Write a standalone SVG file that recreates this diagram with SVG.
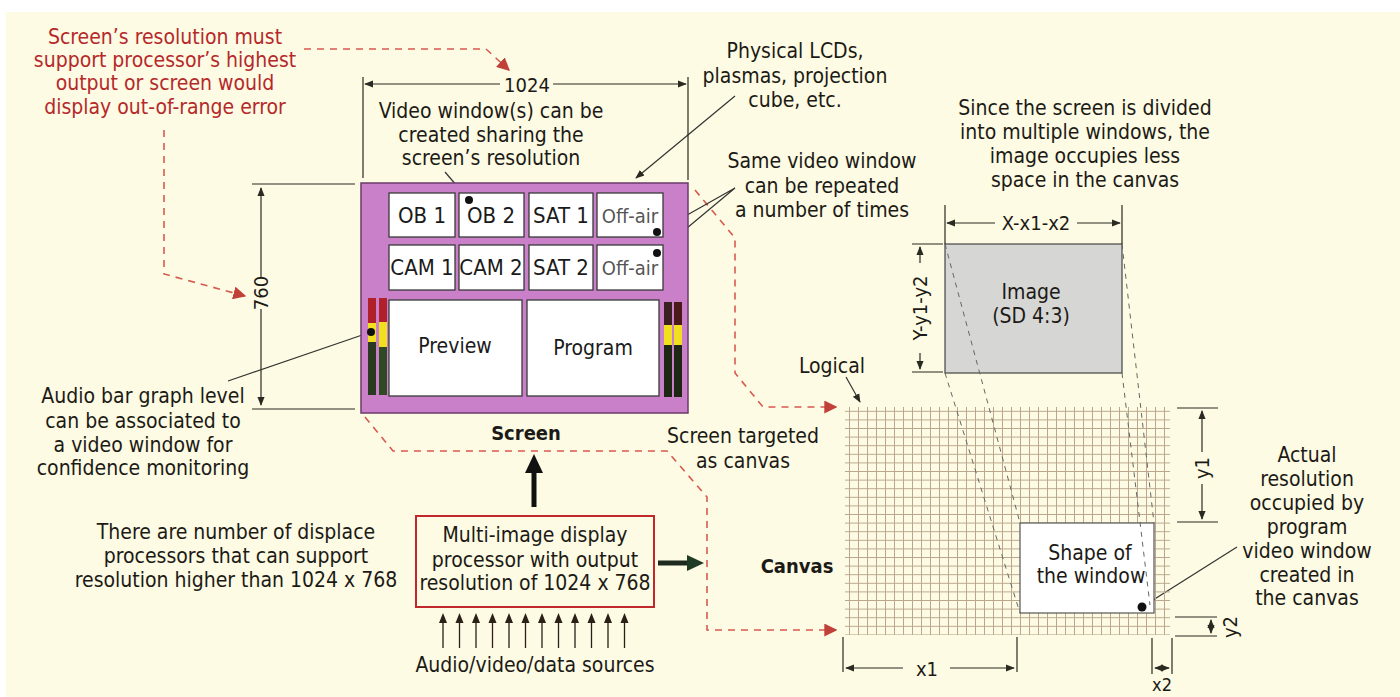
<svg xmlns="http://www.w3.org/2000/svg" width="1400" height="697" viewBox="0 0 1400 697">
<defs>
<style>
.t{font-family:"DejaVu Sans Condensed","DejaVu Sans",sans-serif;font-size:21px;fill:#1c1a16;text-anchor:middle}
.red{fill:#b5292b}
.b{font-weight:bold;font-size:20px}
.d{font-size:20px}
.dim{stroke:#2a2a22;stroke-width:1.2;fill:none}
.dr{stroke:#d65a50;stroke-width:1.6;stroke-dasharray:7 6;fill:none}
.proj{stroke:#666;stroke-width:1;stroke-dasharray:5 5;fill:none}
.lead{stroke:#333;stroke-width:1.2;fill:none}
.win{fill:#ffffff;stroke:#3a3a3a;stroke-width:1.3}
.wt{font-family:"DejaVu Sans Condensed","DejaVu Sans",sans-serif;font-size:22px;fill:#1a1a1a;text-anchor:middle}
</style>
<marker id="ah" viewBox="0 0 10 10" refX="9" refY="5" markerWidth="9" markerHeight="9" markerUnits="userSpaceOnUse" orient="auto">
<path d="M0,1 L10,5 L0,9 Z" fill="#2a2a22"/>
</marker>
<marker id="ahr" viewBox="0 0 10 10" refX="9" refY="5" markerWidth="13" markerHeight="13" markerUnits="userSpaceOnUse" orient="auto">
<path d="M0,0 L10,5 L0,10 Z" fill="#c0403a"/>
</marker>
<pattern id="grid" x="845" y="407" width="9" height="8.6" patternUnits="userSpaceOnUse">
<path d="M4.5,0 V8.6 M0,4.3 H9" stroke="#bba68e" stroke-width="1"/>
</pattern>
</defs>

<rect x="0" y="0" width="1400" height="697" fill="#ffffff"/>
<rect x="6" y="12" width="1394" height="685" fill="#fdfbe3"/>

<!-- connectors -->
<g id="connectors">
<path class="dr" d="M304,49 H486 L509,70" marker-end="url(#ahr)"/>
<path class="dr" d="M164,130 V274 L245,296" marker-end="url(#ahr)"/>
<path class="dr" d="M365,417 L393,451 H667 L707,497 V630 H836" marker-end="url(#ahr)"/>
<path class="dr" d="M695,190 L735,238 V373 L763,407 H836" marker-end="url(#ahr)"/>
<line x1="534" y1="507" x2="534" y2="470" stroke="#111" stroke-width="5"/>
<polygon points="534,454 525,473 543,473" fill="#111"/>
<line x1="658" y1="563" x2="690" y2="563" stroke="#1f2a1f" stroke-width="5"/>
<polygon points="704,563 687,555 687,571" fill="#1f3a25"/>
<path class="lead" d="M735,96 L636,178" marker-end="url(#ah)"/>
<path class="lead" d="M735,188 L657,232 M735,188 L657,253"/>
<path class="lead" d="M445,172 L469,200"/>
<path class="lead" d="M228,381 L371,332"/>
<path class="lead" d="M1237,547 L1142,607"/>
<path class="lead" d="M846,377 L860,402" marker-end="url(#ah)"/>
</g>

<g id="note-resolution">
<text class="t red" x="165" y="44">Screen’s resolution must</text>
<text class="t red" x="165" y="67">support processor’s highest</text>
<text class="t red" x="165" y="90">output or screen would</text>
<text class="t red" x="165" y="114">display out-of-range error</text>
</g>

<g id="dim-1024">
<path class="dim" d="M363,77 V178 M688,77 V180"/>
<path class="dim" d="M500,84 H365" marker-end="url(#ah)"/>
<path class="dim" d="M553,84 H686" marker-end="url(#ah)"/>
<text class="t d" x="527" y="92">1024</text>
</g>

<g id="dim-760">
<path class="dim" d="M252,184 H355 M252,409 H355"/>
<path class="dim" d="M261,278 V188" marker-end="url(#ah)"/>
<path class="dim" d="M261,309 V405" marker-end="url(#ah)"/>
<text class="t d" transform="translate(268,293) rotate(-90)">760</text>
</g>

<g id="note-video-window">
<text class="t" x="491" y="118">Video window(s) can be</text>
<text class="t" x="491" y="142">created sharing the</text>
<text class="t" x="491" y="165">screen’s resolution</text>
</g>

<g id="note-physical">
<text class="t" x="795" y="58">Physical LCDs,</text>
<text class="t" x="795" y="83">plasmas, projection</text>
<text class="t" x="795" y="107">cube, etc.</text>
</g>

<g id="note-same">
<text class="t" x="822" y="168">Same video window</text>
<text class="t" x="822" y="193">can be repeated</text>
<text class="t" x="822" y="217">a number of times</text>
</g>

<g id="screen">
<rect x="361" y="183" width="327" height="230" fill="#c980c9" stroke="#6b3a6b" stroke-width="1.5"/>
<rect class="win" x="389" y="193" width="66" height="44"/>
<rect class="win" x="459" y="193" width="65" height="44"/>
<rect class="win" x="529" y="193" width="64" height="44"/>
<rect class="win" x="597" y="193" width="66" height="44" fill="#f7f4f4"/>
<rect class="win" x="389" y="245" width="66" height="45"/>
<rect class="win" x="459" y="245" width="65" height="45"/>
<rect class="win" x="529" y="245" width="64" height="45"/>
<rect class="win" x="597" y="245" width="66" height="45" fill="#f7f4f4"/>
<rect class="win" x="389" y="300" width="133" height="96"/>
<rect class="win" x="527" y="300" width="132" height="96"/>
<text class="wt" x="422" y="223">OB 1</text>
<text class="wt" x="491" y="223">OB 2</text>
<text class="wt" x="561" y="223">SAT 1</text>
<text class="wt" x="630" y="223" style="fill:#555;font-size:20px">Off-air</text>
<text class="wt" x="422" y="275">CAM 1</text>
<text class="wt" x="491" y="275">CAM 2</text>
<text class="wt" x="561" y="275">SAT 2</text>
<text class="wt" x="630" y="275" style="fill:#555;font-size:20px">Off-air</text>
<text class="wt" x="455" y="353" style="font-size:21px">Preview</text>
<text class="wt" x="593" y="355" style="font-size:21px">Program</text>
<rect x="368" y="298" width="8" height="25" fill="#b0202a"/>
<rect x="368" y="323" width="8" height="19" fill="#f0e020"/>
<rect x="368" y="342" width="8" height="53" fill="#2a3a20"/>
<rect x="379" y="298" width="8" height="24" fill="#b0202a"/>
<rect x="379" y="322" width="8" height="25" fill="#f0e020"/>
<rect x="379" y="347" width="8" height="48" fill="#2e4a22"/>
<rect x="664" y="302" width="8" height="23" fill="#3a2020"/>
<rect x="664" y="325" width="8" height="20" fill="#f0e020"/>
<rect x="664" y="345" width="8" height="52" fill="#1e2614"/>
<rect x="674" y="302" width="8" height="23" fill="#4a1a1a"/>
<rect x="674" y="325" width="8" height="20" fill="#f0e020"/>
<rect x="674" y="345" width="8" height="52" fill="#1e2614"/>
<circle cx="469" cy="200" r="4" fill="#111"/>
<circle cx="657" cy="232" r="4" fill="#111"/>
<circle cx="657" cy="253" r="4" fill="#111"/>
<circle cx="371" cy="332" r="4" fill="#111"/>
<text class="t b" x="526" y="440">Screen</text>
</g>

<g id="note-audio">
<text class="t" x="143" y="403">Audio bar graph level</text>
<text class="t" x="143" y="428">can be associated to</text>
<text class="t" x="143" y="452">a video window for</text>
<text class="t" x="143" y="475">confidence monitoring</text>
</g>

<g id="note-processors">
<text class="t" x="236" y="539">There are number of displace</text>
<text class="t" x="236" y="563">processors that can support</text>
<text class="t" x="236" y="587">resolution higher than 1024 x 768</text>
</g>

<g id="processor">
<rect x="416" y="516" width="238" height="91" fill="#fdfbe3" stroke="#c0282c" stroke-width="2"/>
<text class="t" x="535" y="542">Multi-image display</text>
<text class="t" x="535" y="567">processor with output</text>
<text class="t" x="535" y="590">resolution of 1024 x 768</text>
</g>

<g id="sources">
<g stroke="#2a2018" stroke-width="1.3">
<line x1="443" y1="648" x2="443" y2="620"/><line x1="459.5" y1="648" x2="459.5" y2="620"/><line x1="476" y1="648" x2="476" y2="620"/><line x1="492.5" y1="648" x2="492.5" y2="620"/><line x1="509" y1="648" x2="509" y2="620"/><line x1="525.5" y1="648" x2="525.5" y2="620"/><line x1="542" y1="648" x2="542" y2="620"/><line x1="558.5" y1="648" x2="558.5" y2="620"/><line x1="575" y1="648" x2="575" y2="620"/><line x1="591.5" y1="648" x2="591.5" y2="620"/><line x1="608" y1="648" x2="608" y2="620"/><line x1="624.5" y1="648" x2="624.5" y2="620"/>
</g>
<g fill="#2a2018">
<polygon points="443,613 439,623 447,623"/><polygon points="459.5,613 455.5,623 463.5,623"/><polygon points="476,613 472,623 480,623"/><polygon points="492.5,613 488.5,623 496.5,623"/><polygon points="509,613 505,623 513,623"/><polygon points="525.5,613 521.5,623 529.5,623"/><polygon points="542,613 538,623 546,623"/><polygon points="558.5,613 554.5,623 562.5,623"/><polygon points="575,613 571,623 579,623"/><polygon points="591.5,613 587.5,623 595.5,623"/><polygon points="608,613 604,623 612,623"/><polygon points="624.5,613 620.5,623 628.5,623"/>
</g>
<text class="t" x="535" y="672">Audio/video/data sources</text>
</g>

<g id="note-targeted">
<text class="t" x="743" y="443">Screen targeted</text>
<text class="t" x="743" y="468">as canvas</text>
</g>

<g id="note-logical">
<text class="t" x="832" y="373">Logical</text>
</g>

<g id="note-since">
<text class="t" x="1085" y="115">Since the screen is divided</text>
<text class="t" x="1085" y="139">into multiple windows, the</text>
<text class="t" x="1085" y="163">image occupies less</text>
<text class="t" x="1085" y="187">space in the canvas</text>
</g>

<g id="image">
<rect x="945" y="244" width="177" height="129" fill="#d6d6d4" stroke="#444" stroke-width="1.2"/>
<text class="t" x="1031" y="299">Image</text>
<text class="t" x="1031" y="323">(SD 4:3)</text>
</g>

<g id="dim-image">
<path class="dim" d="M945,205 V244 M1122,205 V244"/>
<path class="dim" d="M995,223 H947" marker-end="url(#ah)"/>
<path class="dim" d="M1077,223 H1120" marker-end="url(#ah)"/>
<text class="t d" x="1036" y="230">X-x1-x2</text>
<path class="dim" d="M912,244 H943 M912,372 H943"/>
<path class="dim" d="M920,263 V247" marker-end="url(#ah)"/>
<path class="dim" d="M920,353 V369" marker-end="url(#ah)"/>
<text class="t d" transform="translate(927,308) rotate(-90)">Y-y1-y2</text>
</g>

<g id="canvas">
<rect x="845" y="407" width="325" height="228" fill="url(#grid)"/>
<text class="t b" x="797" y="573">Canvas</text>
</g>

<g id="window-shape">
<rect x="1020" y="523" width="134" height="90" fill="#ffffff" stroke="#555" stroke-width="1.2"/>
<text class="t" x="1090" y="560">Shape of</text>
<text class="t" x="1091" y="583">the window</text>
<circle cx="1142" cy="607" r="4.5" fill="#111"/>
</g>

<g id="projection">
<path class="proj" d="M945,244 L1020,523 M945,373 L1020,613 M1122,244 L1154,523 M1122,373 L1150,605"/>
</g>

<g id="dim-canvas">
<path class="dim" d="M843,637 V672 M1017,637 V672"/>
<path class="dim" d="M903,668 H846" marker-end="url(#ah)"/>
<path class="dim" d="M950,668 H1014" marker-end="url(#ah)"/>
<text class="t d" x="927" y="676">x1</text>
<path class="dim" d="M1177,408 H1218 M1177,522 H1218"/>
<path class="dim" d="M1202,452 V411" marker-end="url(#ah)"/>
<path class="dim" d="M1202,484 V519" marker-end="url(#ah)"/>
<text class="t d" transform="translate(1209,468) rotate(-90)">y1</text>
<path class="dim" d="M1175,617 H1217 M1175,636 H1217"/>
<path class="dim" d="M1211,626 V620" marker-end="url(#ah)"/>
<path class="dim" d="M1211,627 V633" marker-end="url(#ah)"/>
<text class="t d" transform="translate(1237,627) rotate(-90)">y2</text>
<path class="dim" d="M1152,638 V674 M1172,638 V674"/>
<path class="dim" d="M1162,668 H1155" marker-end="url(#ah)"/>
<path class="dim" d="M1162,668 H1169" marker-end="url(#ah)"/>
<text class="t" x="1162" y="691" style="font-size:18px">x2</text>
</g>

<g id="note-actual">
<text class="t" x="1307" y="462">Actual</text>
<text class="t" x="1307" y="486">resolution</text>
<text class="t" x="1307" y="510">occupied by</text>
<text class="t" x="1307" y="534">program</text>
<text class="t" x="1307" y="558">video window</text>
<text class="t" x="1307" y="582">created in</text>
<text class="t" x="1307" y="605">the canvas</text>
</g>
</svg>
